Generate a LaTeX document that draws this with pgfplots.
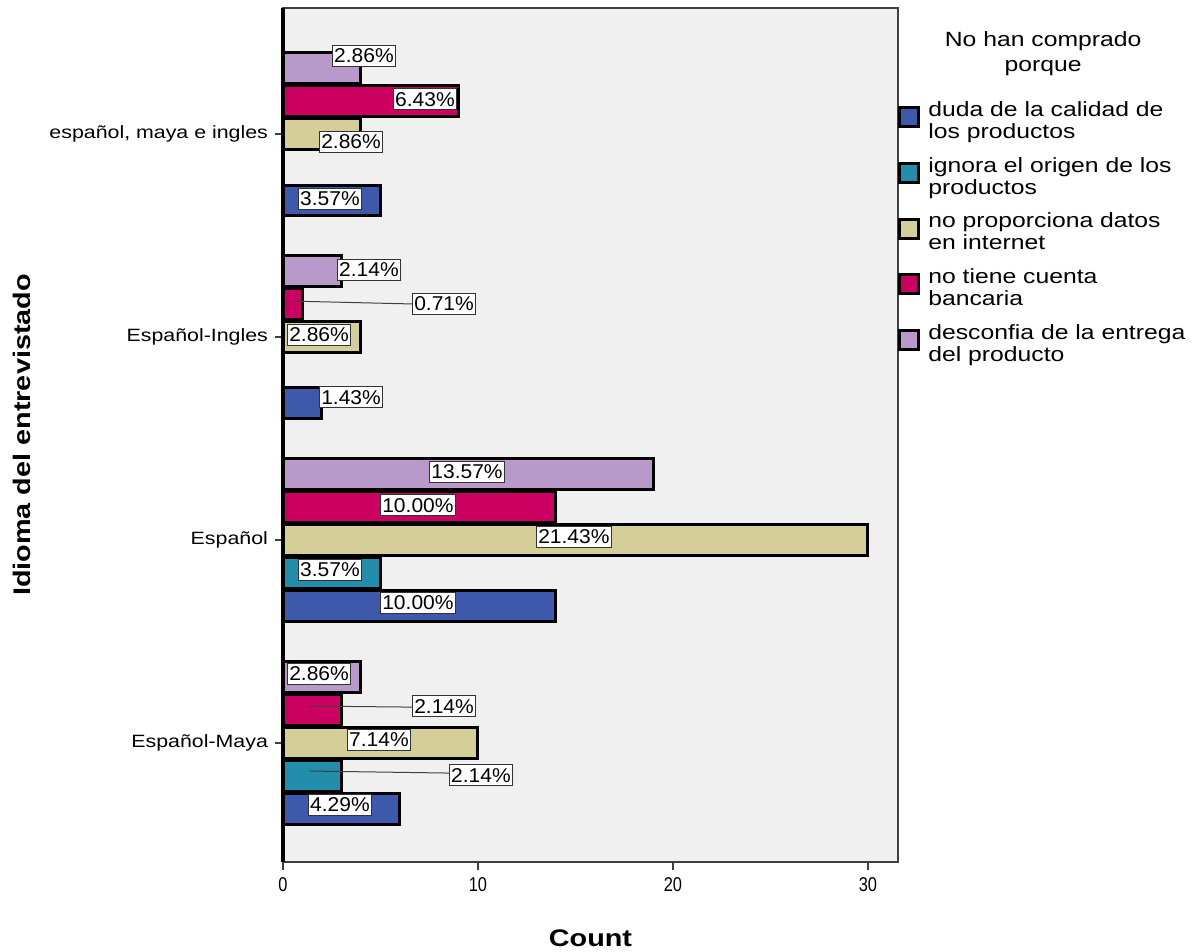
\documentclass[border=0pt]{standalone}
\usepackage{fontspec}
\setmainfont{Liberation Sans}[FakeStretch=1.2]
\newfontfamily\tickfont{Liberation Sans}[FakeStretch=0.82]
\newfontfamily\valfont{Liberation Sans}[FakeStretch=1.05]
\usepackage{pgfplots}
\pgfplotsset{compat=1.18}
\usepackage{pgfplotstable}

\definecolor{cduda}{RGB}{62,88,172}
\definecolor{cignora}{RGB}{35,142,171}
\definecolor{cnoprop}{RGB}{213,206,153}
\definecolor{cnotiene}{RGB}{204,0,96}
\definecolor{cdesconf}{RGB}{185,153,201}
\definecolor{cbg}{RGB}{240,240,240}

% label positions (x = count, y = category position) and percentage shown
\pgfplotstableread{
x y p
4.15 3.384 2.86
7.28 3.172 6.43
3.49 2.961 2.86
2.41 2.680 3.57
4.41 2.330 2.14
8.26 2.163 0.71
1.85 2.010 2.86
3.49 1.704 1.43
9.44 1.335 13.57
6.92 1.172 10.00
14.92 1.015 21.43
2.41 0.852 3.57
6.92 0.690 10.00
1.85 0.340 2.86
8.26 0.182 2.14
4.92 0.015 7.14
10.15 -0.158 2.14
2.92 -0.305 4.29
}\labeltable

\begin{document}
\begin{tikzpicture}
\path[use as bounding box] (-141.5pt,-45pt) rectangle (456.5pt,431pt);
\begin{axis}[
  at={(0pt,0pt)}, anchor=south west,
  scale only axis, width=307.5pt, height=427pt,
  xmin=0, xmax=31.54, ymin=-0.586, ymax=3.621,
  clip mode=individual,
  bar width=0.15,
  axis background/.style={fill=cbg},
  axis line style={draw=black!75, line width=0.7pt},
  tick align=outside, tick pos=left, major tick length=4pt,
  tick style={draw=black!75, line width=0.7pt},
  xtick={0,10,20,30},
  ytick={0,1,2,3},
  yticklabels={Español-Maya,Español,Español-Ingles,{español, maya e ingles}},
  /pgf/number format/assume math mode=true,
  xticklabel style={font=\tickfont\fontsize{10}{11}\selectfont},
  yticklabel style={font=\fontsize{8.9}{10}\selectfont},
  xlabel={\textbf{Count}},
  ylabel={\textbf{Idioma del entrevistado}},
  every axis x label/.style={at={(axis description cs:0.5,-0.089)}, anchor=center, font=\fontsize{12}{14}\selectfont},
  every axis y label/.style={at={(axis description cs:-0.4244,0.5)}, anchor=center, rotate=90, font=\fontsize{12}{14}\selectfont},
  legend cell align=left,
  legend style={at={(rel axis cs:1,0.896)}, anchor=north west, draw=none, fill=none,
    font=\fontsize{10.3}{11}\selectfont, cells={anchor=west, align=left},
    row sep=4pt, inner sep=0pt,
    /tikz/every odd column/.append style={column sep=2pt}},
  every axis plot post/.append style={legend image code/.code={\draw[#1, line width=1.5pt] (0pt,-2.5pt) rectangle (9.5pt,7pt);}},
]
\addplot[xbar, bar shift=-0.326, fill=cduda, draw=black, line width=1.5pt]
  coordinates {(6,0) (14,1) (2,2) (5,3)};
\addlegendentry{duda de la calidad de\\los productos}
\addplot[xbar, bar shift=-0.163, fill=cignora, draw=black, line width=1.5pt]
  coordinates {(3,0) (5,1)};
\addlegendentry{ignora el origen de los\\productos}
\addplot[xbar, bar shift=0, fill=cnoprop, draw=black, line width=1.5pt]
  coordinates {(10,0) (30,1) (4,2) (4,3)};
\addlegendentry{no proporciona datos\\en internet}
\addplot[xbar, bar shift=0.163, fill=cnotiene, draw=black, line width=1.5pt]
  coordinates {(3,0) (14,1) (1,2) (9,3)};
\addlegendentry{no tiene cuenta\\bancaria}
\addplot[xbar, bar shift=0.326, fill=cdesconf, draw=black, line width=1.5pt]
  coordinates {(4,0) (19,1) (3,2) (4,3)};
\addlegendentry{desconfia de la entrega\\del producto}
% leader lines
\addplot[forget plot, no markers, draw=black!75, line width=0.5pt] coordinates {(0.51,2.177) (6.62,2.163)};
\addplot[forget plot, no markers, draw=black!75, line width=0.5pt] coordinates {(1.38,0.182) (6.62,0.177)};
\addplot[forget plot, no markers, draw=black!75, line width=0.5pt] coordinates {(1.38,-0.138) (8.56,-0.148)};
% value labels
\addplot[forget plot, only marks, mark=*, mark options={draw=none, fill=none},
  point meta=explicit,
  nodes near coords={\pgfmathprintnumber[fixed,fixed zerofill,precision=2]{\pgfplotspointmeta}\%},
  nodes near coords align={center},
  every node near coord/.append style={anchor=center, fill=white, draw=black!80, line width=0.5pt,
    inner xsep=1pt, inner ysep=1.6pt, text=black, font=\valfont\fontsize{10}{11}\selectfont}]
  table[x=x, y=y, meta=p] {\labeltable};
\draw[line width=1.6pt, black] (rel axis cs:0,0) -- (rel axis cs:0,1);
\node[align=center, font=\fontsize{10.3}{12.5}\selectfont] at (rel axis cs:1.236,0.947) {No han comprado\\porque};
\end{axis}
\end{tikzpicture}
\end{document}
